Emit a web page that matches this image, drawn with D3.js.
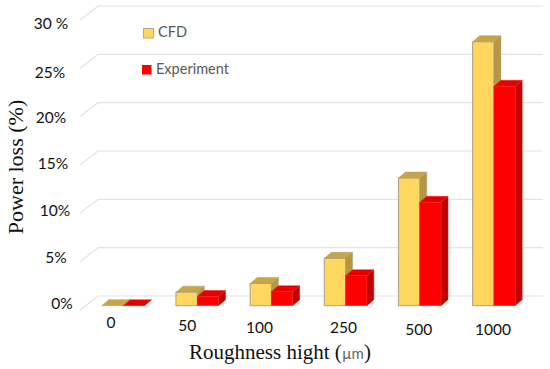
<!DOCTYPE html>
<html>
<head>
<meta charset="utf-8">
<script src="https://d3js.org/d3.v7.min.js"></script>
<style>
    html, body { margin: 0; padding: 0; background: #fff; }
    svg { display: block; }
    .tick-label { font-family: Lato, sans-serif; font-size: 15.5px; fill: #111; }
</style>
</head>
<body>
<div id="chart"></div>
<script>
// values
var categories = ['0', '50', '100', '250', '500', '1000'];
var cfdValues = [0, 1.4, 2.3, 4.9, 13.2, 27.3];
var experimentValues = [0, 0.95, 1.45, 3.1, 10.7, 22.7];
var yTicks = [0, 5, 10, 15, 20, 25, 30];
var yTickLabels = ['0%', '5%', '10%', '15%', '20%', '25%', '30 %'];

// the labels in the original were placed by hand, so they don't sit on a line
var xLabelY = [324, 327, 329, 329, 331, 331];
var xLabelNudge = [-6, -4, -6, 4, 5, 5];
var yLabelX = [62, 56, 55, 53, 51, 50, 51];
var yLabelNudge = [-5, -3, -2, 0, 2, 5, 5];

var width = 550;
var height = 369;

// 3d look: floor/wall depth and bar depth
var wallDx = 18, wallDy = 14;
var barDx = 7, barDy = 6;
var floorLeft = 80, floorRight = 525;

var x = d3.scaleBand().domain(categories).range([floorLeft, floorRight]);
var y = d3.scaleLinear().domain([0, 30]).range([310, 20]);

var barWidth = 21.3;
var barShiftX = 6, barShiftY = -4.3;

var svg = d3.select('#chart').append('svg')
    .attr('width', width)
    .attr('height', height);

// gridlines on the wall and the slanted bit at the left
var grid = svg.append('g').attr('fill', 'none').attr('stroke', '#e4e4e4').attr('stroke-width', 1.2);
yTicks.forEach(function(t) {
    grid.append('path').attr('d', d3.line()([
        [floorLeft, y(t)],
        [floorLeft + wallDx, y(t) - wallDy],
        [floorRight + wallDx, y(t) - wallDy]
    ]));
});

function drawBar(g, left, value, c) {
    var base = y(0) + barShiftY;
    var top = base - (y(0) - y(value));
    var right = left + barWidth;
    var line = d3.line();

    // side
    g.append('path')
        .attr('d', line([[right, top], [right + barDx, top - barDy], [right + barDx, base - barDy], [right, base]]) + 'Z')
        .attr('fill', c.side).attr('stroke', c.stroke).attr('stroke-width', 0.5);
    // top
    g.append('path')
        .attr('d', line([[left, top], [left + barDx, top - barDy], [right + barDx, top - barDy], [right, top]]) + 'Z')
        .attr('fill', c.top).attr('stroke', c.stroke).attr('stroke-width', 0.5);
    // front
    g.append('rect')
        .attr('x', left).attr('y', top)
        .attr('width', barWidth).attr('height', base - top)
        .attr('fill', c.front).attr('stroke', c.stroke).attr('stroke-width', c.frontStroke);
}

var cfdColors = { front: '#ffd75e', top: '#c9a545', side: '#b8963f', stroke: '#ab9f85', frontStroke: 1 };
var expColors = { front: '#ff0000', top: '#e50000', side: '#c00000', stroke: '#e8291f', frontStroke: 0.5 };

var bars = svg.append('g');
categories.forEach(function(cat, i) {
    var center = x(cat) + x.bandwidth() / 2 + barShiftX;
    var g = bars.append('g');
    drawBar(g, center - barWidth, cfdValues[i], cfdColors);
    drawBar(g, center, experimentValues[i], expColors);
});

// axis labels, no domain or tick lines in the original
var xAxis = d3.axisBottom(x).tickSize(0);
var xAxisG = svg.append('g').call(xAxis);
xAxisG.select('.domain').remove();
xAxisG.selectAll('.tick text')
    .attr('class', 'tick-label')
    .attr('font-family', null).attr('font-size', null)
    .attr('dy', null)
    .attr('text-anchor', 'middle')
    .attr('dominant-baseline', 'middle')
    .attr('x', function(d, i) { return xLabelNudge[i]; })
    .attr('y', function(d, i) { return xLabelY[i]; });

var yAxis = d3.axisLeft(y)
    .tickValues(yTicks)
    .tickSize(0)
    .tickFormat(function(d, i) { return yTickLabels[i]; });
var yAxisG = svg.append('g').call(yAxis);
yAxisG.select('.domain').remove();
yAxisG.selectAll('.tick text')
    .attr('class', 'tick-label')
    .attr('dy', null)
    .attr('text-anchor', 'middle')
    .attr('dominant-baseline', 'middle')
    .attr('x', function(d, i) { return yLabelX[i]; })
    .attr('y', function(d, i) { return yLabelNudge[i]; });

// axis titles
svg.append('text')
    .attr('transform', 'translate(23,167) rotate(-90)')
    .attr('text-anchor', 'middle')
    .attr('font-family', '"Liberation Serif", serif')
    .attr('font-size', 22)
    .attr('fill', '#111')
    .text('Power loss (%)');

var xTitle = svg.append('text')
    .attr('x', 280).attr('y', 359)
    .attr('text-anchor', 'middle')
    .attr('font-family', '"Liberation Serif", serif')
    .attr('font-size', 21)
    .attr('fill', '#111');
xTitle.append('tspan').text('Roughness hight (');
xTitle.append('tspan').attr('font-family', 'Lato, sans-serif').attr('font-size', 15).attr('fill', '#666').text('\u00b5m');
xTitle.append('tspan').text(')');

// legend
var legend = svg.append('g').attr('font-family', 'Lato, sans-serif').attr('font-size', 14.5).attr('fill', '#595959');
legend.append('rect').attr('x', 143.5).attr('y', 28.5).attr('width', 10).attr('height', 9.5)
    .attr('fill', cfdColors.front).attr('stroke', '#b5ab90');
legend.append('text').attr('x', 158).attr('y', 33).attr('dominant-baseline', 'middle').text('CFD');
legend.append('rect').attr('x', 142).attr('y', 65).attr('width', 9.5).attr('height', 9.5)
    .attr('fill', expColors.front);
legend.append('text').attr('x', 156).attr('y', 70).attr('dominant-baseline', 'middle').text('Experiment');
</script>
</body>
</html>
